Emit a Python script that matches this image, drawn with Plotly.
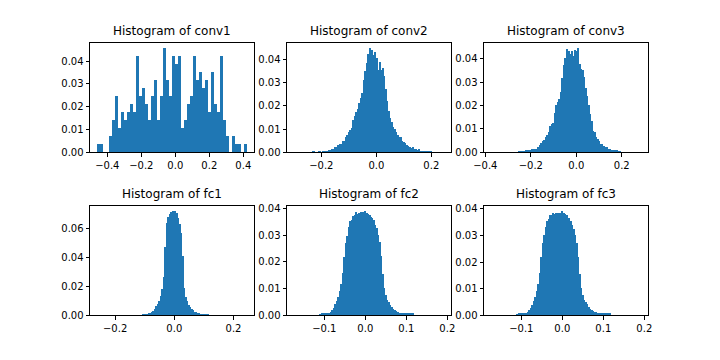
import numpy as np
import plotly.graph_objects as go

# histogram data: bin range (lo, hi) and normalised bar heights
conv1_range = (-0.458, 0.419)
conv1_heights = [
    0.0035, 0.0035, 0, 0, 0.007, 0.014, 0.0245, 0.0105, 0.0175, 0.014,
    0.0175, 0.021, 0.0175, 0.042, 0.0245, 0.028, 0.021, 0.014, 0.0245, 0.0315,
    0.014, 0.0245, 0.0455, 0.0315, 0.0245, 0.042, 0.0385, 0.042, 0.0105, 0.014,
    0.021, 0.0245, 0.042, 0.0315, 0.035, 0.028, 0.0315, 0.0175, 0.035, 0.021,
    0.0175, 0.042, 0.014, 0.007, 0, 0.007, 0.0035, 0.0035, 0, 0.0035,
]

conv2_range = (-0.2978, 0.2445)
conv2_heights = [
    0, 0, 0, 0, 0, 0, 0, 0, 0, 0,
    0, 0, 0.0004, 0.0004, 0, 0, 0.0004, 0.0004, 0, 0.0004,
    0.0004, 0.0004, 0.0004, 0.0009, 0.0009, 0.0013, 0.0013, 0.0022, 0.0022, 0.0029,
    0.0034, 0.0034, 0.0049, 0.0049, 0.0066, 0.0072, 0.0086, 0.0096, 0.0103, 0.0138,
    0.0155, 0.0173, 0.0186, 0.0209, 0.0232, 0.0255, 0.0311, 0.0348, 0.0382, 0.0424,
    0.0447, 0.0426, 0.0439, 0.0416, 0.0430, 0.0403, 0.0353, 0.0387, 0.0355, 0.0361,
    0.0326, 0.0271, 0.0218, 0.0176, 0.0146, 0.0129, 0.0106, 0.0098, 0.0086, 0.0072,
    0.0063, 0.0063, 0.0049, 0.0043, 0.0040, 0.0032, 0.0026, 0.0020, 0.0017, 0.0020,
    0.0014, 0.0011, 0.0009, 0.0011, 0.0004, 0.0004, 0.0004, 0.0002, 0.0002, 0.0002,
    0.0002, 0.0002, 0, 0, 0, 0, 0, 0, 0, 0,
]

conv3_range = (-0.373, 0.2825)
conv3_heights = [
    0, 0, 0, 0, 0, 0, 0, 0, 0, 0,
    0, 0, 0, 0, 0, 0, 0, 0, 0.0004, 0.0004,
    0.0004, 0.0004, 0.0004, 0.0009, 0.0009, 0.0009, 0.0009, 0.0013, 0.0013, 0.0013,
    0.0013, 0.0023, 0.0028, 0.0038, 0.0048, 0.0051, 0.0063, 0.0071, 0.0085, 0.0111,
    0.0118, 0.0125, 0.0168, 0.0199, 0.0214, 0.0226, 0.0256, 0.0316, 0.0370, 0.0404,
    0.0439, 0.0430, 0.0433, 0.0419, 0.0433, 0.0410, 0.0436, 0.0433, 0.0444, 0.0376,
    0.0356, 0.0350, 0.0322, 0.0275, 0.0240, 0.0202, 0.0162, 0.0131, 0.0091, 0.0085,
    0.0066, 0.0054, 0.0046, 0.0034, 0.0034, 0.0026, 0.0020, 0.0020, 0.0014, 0.0011,
    0.0009, 0.0009, 0.0009, 0.0009, 0.0006, 0.0004, 0.0004, 0, 0, 0,
    0, 0, 0, 0, 0, 0, 0, 0, 0, 0,
]

fc1_range = (-0.2596, 0.2441)
fc1_heights = [
    0, 0, 0, 0, 0, 0, 0, 0, 0, 0,
    0, 0, 0, 0, 0, 0, 0, 0, 0, 0,
    0, 0, 0, 0, 0, 0, 0, 0, 0, 0,
    0.0005, 0.0005, 0.0005, 0.0005, 0.0011, 0.0011, 0.0018, 0.0028, 0.0041, 0.0060,
    0.0078, 0.0097, 0.0129, 0.0179, 0.0262, 0.0469, 0.0634, 0.0676, 0.0699, 0.0708,
    0.0715, 0.0715, 0.0713, 0.0701, 0.0669, 0.0625, 0.0566, 0.0409, 0.0188, 0.0124,
    0.0097, 0.0069, 0.0055, 0.0044, 0.0032, 0.0023, 0.0018, 0.0014, 0.0009, 0.0005,
    0.0005, 0.0005, 0.0005, 0.0005, 0.0005, 0, 0, 0, 0, 0,
    0, 0, 0, 0, 0, 0, 0, 0, 0, 0,
    0, 0, 0, 0, 0, 0, 0, 0, 0, 0,
]

fc2_range = (-0.1728, 0.1908)
fc2_heights = [
    0, 0, 0, 0, 0, 0, 0, 0, 0, 0,
    0, 0, 0, 0, 0, 0, 0, 0.0002, 0.0004, 0.0004,
    0.0004, 0.0007, 0.0007, 0.0007, 0.0012, 0.0020, 0.0027, 0.0041, 0.0052, 0.0067,
    0.0089, 0.0117, 0.0156, 0.0217, 0.0269, 0.0297, 0.0329, 0.0350, 0.0356, 0.0371,
    0.0374, 0.0384, 0.0376, 0.0381, 0.0384, 0.0384, 0.0384, 0.0388, 0.0381, 0.0379,
    0.0374, 0.0366, 0.0361, 0.0354, 0.0336, 0.0324, 0.0299, 0.0271, 0.0222, 0.0154,
    0.0102, 0.0075, 0.0057, 0.0047, 0.0037, 0.0030, 0.0022, 0.0017, 0.0015, 0.0010,
    0.0007, 0.0007, 0.0004, 0.0004, 0.0004, 0.0004, 0.0004, 0.0004, 0.0004, 0.0004,
    0, 0, 0, 0, 0, 0, 0, 0, 0, 0,
    0, 0, 0, 0, 0, 0, 0, 0, 0, 0,
]

fc3_range = (-0.1728, 0.1908)
fc3_heights = [
    0, 0, 0, 0, 0, 0, 0, 0, 0, 0,
    0, 0, 0, 0, 0, 0, 0, 0.0002, 0.0004, 0.0004,
    0.0004, 0.0007, 0.0007, 0.0007, 0.0012, 0.0017, 0.0025, 0.0037, 0.0052, 0.0067,
    0.0090, 0.0115, 0.0157, 0.0217, 0.0269, 0.0299, 0.0329, 0.0351, 0.0361, 0.0374,
    0.0376, 0.0384, 0.0379, 0.0381, 0.0381, 0.0384, 0.0384, 0.0389, 0.0384, 0.0379,
    0.0374, 0.0364, 0.0364, 0.0351, 0.0336, 0.0324, 0.0299, 0.0271, 0.0219, 0.0154,
    0.0102, 0.0075, 0.0057, 0.0047, 0.0040, 0.0030, 0.0022, 0.0020, 0.0015, 0.0012,
    0.0010, 0.0007, 0.0007, 0.0004, 0.0004, 0.0004, 0.0004, 0.0004, 0.0004, 0.0004,
    0, 0, 0, 0, 0, 0, 0, 0, 0, 0,
    0, 0, 0, 0, 0, 0, 0, 0, 0, 0,
]

# tick labels per panel
conv1_xticks = [-0.4, -0.2, 0.0, 0.2, 0.4]
conv2_xticks = [-0.2, 0.0, 0.2]
conv3_xticks = [-0.4, -0.2, 0.0, 0.2]
fc1_xticks = [-0.2, 0.0, 0.2]
fc2_xticks = [-0.1, 0.0, 0.1, 0.2]
fc3_xticks = [-0.1, 0.0, 0.1, 0.2]
conv_yticks = [0.00, 0.01, 0.02, 0.03, 0.04]
fc1_yticks = [0.00, 0.02, 0.04, 0.06]
fc_yticks = [0.00, 0.01, 0.02, 0.03, 0.04]

panels = [
    ("conv1", conv1_range, conv1_heights, conv1_xticks, conv_yticks),
    ("conv2", conv2_range, conv2_heights, conv2_xticks, conv_yticks),
    ("conv3", conv3_range, conv3_heights, conv3_xticks, conv_yticks),
    ("fc1", fc1_range, fc1_heights, fc1_xticks, fc1_yticks),
    ("fc2", fc2_range, fc2_heights, fc2_xticks, fc_yticks),
    ("fc3", fc3_range, fc3_heights, fc3_xticks, fc_yticks),
]

# the page body has an 8px margin, so the figure is 8px smaller and
# panel positions (in window pixels) are shifted by that amount
OFF = 8
W, H = 720 - OFF, 360 - OFF
col_px = [(90, 254), (287, 451), (484, 648)]
row_px = [(43.3, 152.3), (206.4, 315.4)]

FONT = "DejaVu Sans"
BLUE = "#1f77b4"

fig = go.Figure()
layout = dict(
    width=W, height=H,
    margin=dict(l=0, r=0, t=0, b=0, pad=0, autoexpand=False),
    paper_bgcolor="white", plot_bgcolor="white",
    showlegend=False, bargap=0,
    font=dict(family=FONT, size=10, color="black"),
    annotations=[],
)

for k, (name, (lo, hi), heights, xt, yt) in enumerate(panels):
    r, c = divmod(k, 3)
    edges = np.linspace(lo, hi, len(heights) + 1)
    bw = edges[1] - edges[0]
    sfx = "" if k == 0 else str(k + 1)
    fig.add_trace(go.Bar(
        x=edges[:-1], y=heights, width=bw, offset=0,
        marker=dict(color=BLUE, line=dict(width=0)),
        xaxis="x" + sfx, yaxis="y" + sfx, hoverinfo="skip",
    ))
    span = hi - lo
    x0, x1 = [(v - OFF) / W for v in col_px[c]]
    y0, y1 = [1 - (v - OFF) / H for v in row_px[r]]
    common = dict(
        showline=True, linecolor="black", linewidth=0.8, mirror=True,
        ticks="outside", ticklen=3.5, tickwidth=0.8, tickcolor="black",
        showgrid=False, zeroline=False, automargin=False,
        tickfont=dict(family=FONT, size=10, color="black"),
    )
    layout["xaxis" + sfx] = dict(
        common, domain=[x0, x1],
        range=[lo - 0.05 * span, hi + 0.05 * span],
        tickvals=xt, tickformat=".1f",
        anchor="y" + sfx,
    )
    layout["yaxis" + sfx] = dict(
        common, domain=[y1, y0],
        range=[0, max(heights) * 1.05],
        tickvals=yt, tickformat=".2f",
        anchor="x" + sfx,
    )
    layout["annotations"].append(dict(
        text="Histogram of " + name, xref="paper", yref="paper",
        x=(x0 + x1) / 2, y=y0, xanchor="center", yanchor="bottom",
        yshift=3, showarrow=False, font=dict(family=FONT, size=12, color="black"),
    ))

fig.update_layout(**layout)
fig.write_html("out.html")
